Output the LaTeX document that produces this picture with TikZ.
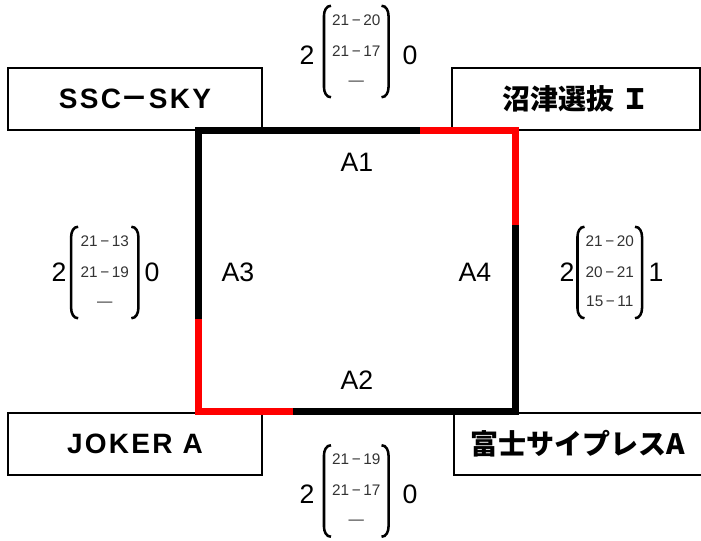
\documentclass[tikz,border=0pt]{standalone}
\usepackage{fontspec}
\setmainfont{Liberation Sans}
\newfontfamily\jp{Noto Sans CJK JP}
\usetikzlibrary{calc}
\begin{document}
\begin{tikzpicture}[x=0.75pt,y=-0.75pt,
  team/.style={draw, line width=1pt, minimum height=46.5pt, inner sep=0pt},
  teamL/.style={team, minimum width=190.5pt},
  teamR/.style={team, minimum width=186pt},
  latinname/.style={font=\fontsize{21}{22}\selectfont\bfseries\addfontfeatures{LetterSpace=8}},
  jpname/.style={font=\jp\fontsize{21}{22}\selectfont\bfseries},
  sq/.style={line width=5.25pt, line join=miter},
  court/.style={font=\fontsize{20}{22}\selectfont, inner sep=0pt},
  big/.style={font=\fontsize{20}{22}\selectfont, inner sep=0pt},
  mat/.style={minimum width=48pt, minimum height=68.25pt, inner sep=0pt},
  sline/.style={font=\fontsize{11.5}{13}\selectfont, text=black!80, inner sep=0pt, text height=8.3pt, text depth=0pt},
  brk/.style={line width=1.9pt}
]
\useasboundingbox (0,0) rectangle (701,541);

% team boxes
\node[teamL, latinname] (ssc) at (135,99) {SSC{\jp －}SKY};
\node[teamR, jpname] (numazu) at (576,99) {沼津選抜 Ｉ};
\node[teamL, latinname] (joker) at (135,444) {JOKER A};
\node[teamR, jpname] (fuji) at (578,444) {富士サイプレスA};

% court square
\coordinate (tl) at (198,131);
\coordinate (tr) at (515,131);
\coordinate (br) at (515,412);
\coordinate (bl) at (198,412);
\coordinate (rt1) at (420,131);
\coordinate (rt2) at (515,225);
\coordinate (rl1) at (198,319);
\coordinate (rl2) at (293,412);
\draw[sq] (tl) -- (tr) -- (br) -- (bl) -- cycle;
\draw[sq, red] (rt1) -- (tr) -- (rt2);
\draw[sq, red] (rl1) -- (bl) -- (rl2);

% court labels
\node[court] (a1) at (357,162) {A1};
\node[court] (a2) at (357,380) {A2};
\node[court] (a3) at (238,272) {A3};
\node[court] (a4) at (475,272) {A4};

% score blocks
\newcommand\ScoreLines[4]{%
  \node[sline] (#1a) at ($(#1)+(0,-32)$) {#2};
  \node[sline] (#1b) at ($(#1)+(0,-1)$) {#3};
  \node[sline] (#1c) at ($(#1)+(0,28)$) {#4};
  \draw[brk] ($(#1.north west)+(7,0)$) to[out=180,in=90] ($(#1.north west)+(0,10)$)
     -- ($(#1.south west)+(0,-10)$) to[out=-90,in=180] ($(#1.south west)+(7,0)$);
  \draw[brk] ($(#1.north east)+(-7,0)$) to[out=0,in=90] ($(#1.north east)+(0,10)$)
     -- ($(#1.south east)+(0,-10)$) to[out=-90,in=0] ($(#1.south east)+(-7,0)$);
}
% top (A1)
\node[mat] (mt) at (356.25,51.5) {};
\ScoreLines{mt}{21\,−\,20}{21\,−\,17}{—}
\node[big] (mtl) at (307,55) {2};
\node[big] (mtr) at (410,55) {0};
% left (A3)
\node[mat, minimum width=50pt] (ml) at (104.75,272.5) {};
\ScoreLines{ml}{21\,−\,13}{21\,−\,19}{—}
\node[big] (mll) at (59,272) {2};
\node[big] (mlr) at (152,272) {0};
% right (A4)
\node[mat] (mr) at (609.75,272.5) {};
\ScoreLines{mr}{21\,−\,20}{20\,−\,21}{15\,−\,11}
\node[big] (mrl) at (567,272) {2};
\node[big] (mrr) at (656,272) {1};
% bottom (A2)
\node[mat] (mb) at (356.25,491) {};
\ScoreLines{mb}{21\,−\,19}{21\,−\,17}{—}
\node[big] (mbl) at (307,494) {2};
\node[big] (mbr) at (410,494) {0};
\end{tikzpicture}
\end{document}
